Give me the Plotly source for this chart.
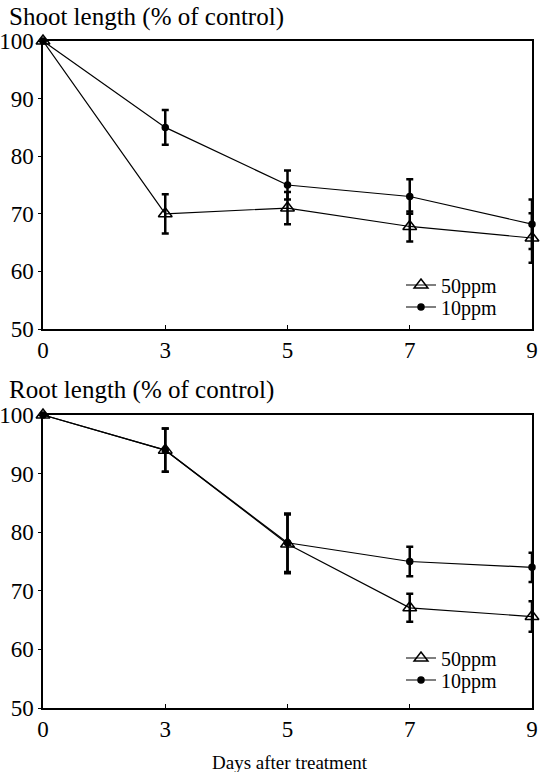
import plotly.graph_objects as go

days = ["0", "3", "5", "7", "9"]

shoot_50 = [100, 70, 71, 67.8, 65.8]
shoot_50_err = [0, 3.4, 2.8, 2.6, 4.3]
shoot_10 = [100, 85, 75, 73, 68.2]
shoot_10_err = [0, 3.0, 2.5, 3.0, 4.3]

root_50 = [100, 94, 78, 67.1, 65.6]
root_50_err = [0, 3.7, 5.0, 2.4, 2.6]
root_10 = [100, 94, 78.2, 75, 74]
root_10_err = [0, 3.7, 5.0, 2.5, 2.5]

legend_names = ["50ppm", "10ppm"]
yticks = [50, 60, 70, 80, 90, 100]

FONT = "Liberation Serif"
W, H = 541, 772
ML, MR = 43, 9

fig = go.Figure()


def add_series(y, err, name, xa, ya, leg, symbol, msize):
    fig.add_trace(go.Scatter(
        x=days, y=y, name=name, mode="lines+markers",
        xaxis=xa, yaxis=ya, legend=leg, showlegend=True,
        line=dict(color="black", width=1.2),
        marker=dict(symbol=symbol, size=msize, color="black",
                    line=dict(color="black", width=1.5)),
        error_y=dict(type="data", array=err, visible=True,
                     color="black", thickness=2.5, width=3.5),
        cliponaxis=False,
    ))


add_series(shoot_50, shoot_50_err, legend_names[0], "x", "y", "legend", "triangle-up-open", 12)
add_series(shoot_10, shoot_10_err, legend_names[1], "x", "y", "legend2", "circle", 6)
add_series(root_50, root_50_err, legend_names[0], "x2", "y2", "legend3", "triangle-up-open", 12)
add_series(root_10, root_10_err, legend_names[1], "x2", "y2", "legend4", "circle", 6)


def py(px):
    return 1 - px / H


def pxx(px):
    return (px - ML) / (W - ML - MR)


xcommon = dict(type="category", categoryorder="array", categoryarray=days,
               range=[0, 4], showline=True, linecolor="black", linewidth=1.5,
               mirror=True, ticks="inside", ticklen=4, tickwidth=1.2,
               tickcolor="black", showgrid=False, zeroline=False,
               automargin=False,
               tickfont=dict(family=FONT, size=23, color="black"))
ycommon = dict(range=[50, 100], tickvals=yticks, showline=True,
               linecolor="black", linewidth=1.5, mirror=True, ticks="outside",
               ticklen=3, tickwidth=1.2, tickcolor="black", showgrid=False,
               zeroline=False, automargin=False,
               tickfont=dict(family=FONT, size=23, color="black"))

legcommon = dict(xref="paper", yref="paper", xanchor="left", yanchor="middle",
                 bgcolor="rgba(0,0,0,0)", borderwidth=0, visible=True,
                 font=dict(family=FONT, size=20, color="black"),
                 tracegroupgap=0, itemwidth=30)

LEGX = pxx(401)

fig.update_layout(
    width=W, height=H, showlegend=True,
    margin=dict(l=ML, r=MR, t=0, b=0, autoexpand=False),
    paper_bgcolor="white", plot_bgcolor="white",
    font=dict(family=FONT, color="black"),
    xaxis=dict(domain=[0, 1], anchor="y", **xcommon),
    yaxis=dict(domain=[py(329), py(41)], anchor="x", **ycommon),
    xaxis2=dict(domain=[0, 1], anchor="y2", **xcommon),
    yaxis2=dict(domain=[py(708), py(415)], anchor="x2", **ycommon),
    legend=dict(x=LEGX, y=py(285), **legcommon),
    legend2=dict(x=LEGX, y=py(307), **legcommon),
    legend3=dict(x=LEGX, y=py(658), **legcommon),
    legend4=dict(x=LEGX, y=py(680), **legcommon),
    annotations=[
        dict(text="Shoot length (% of control)", x=pxx(7), y=py(17),
             xref="paper", yref="paper", xanchor="left", yanchor="middle",
             showarrow=False, font=dict(family=FONT, size=25, color="black")),
        dict(text="Root length (% of control)", x=pxx(7), y=py(390),
             xref="paper", yref="paper", xanchor="left", yanchor="middle",
             showarrow=False, font=dict(family=FONT, size=25, color="black")),
        dict(text="Days after treatment", x=pxx(290), y=py(762),
             xref="paper", yref="paper", xanchor="center", yanchor="middle",
             showarrow=False, font=dict(family=FONT, size=19, color="black")),
    ],
)

fig.write_html("out.html",
               config={"displayModeBar": False},
               post_script="document.body.style.margin='0px';"
                           "document.body.style.overflow='hidden';")
